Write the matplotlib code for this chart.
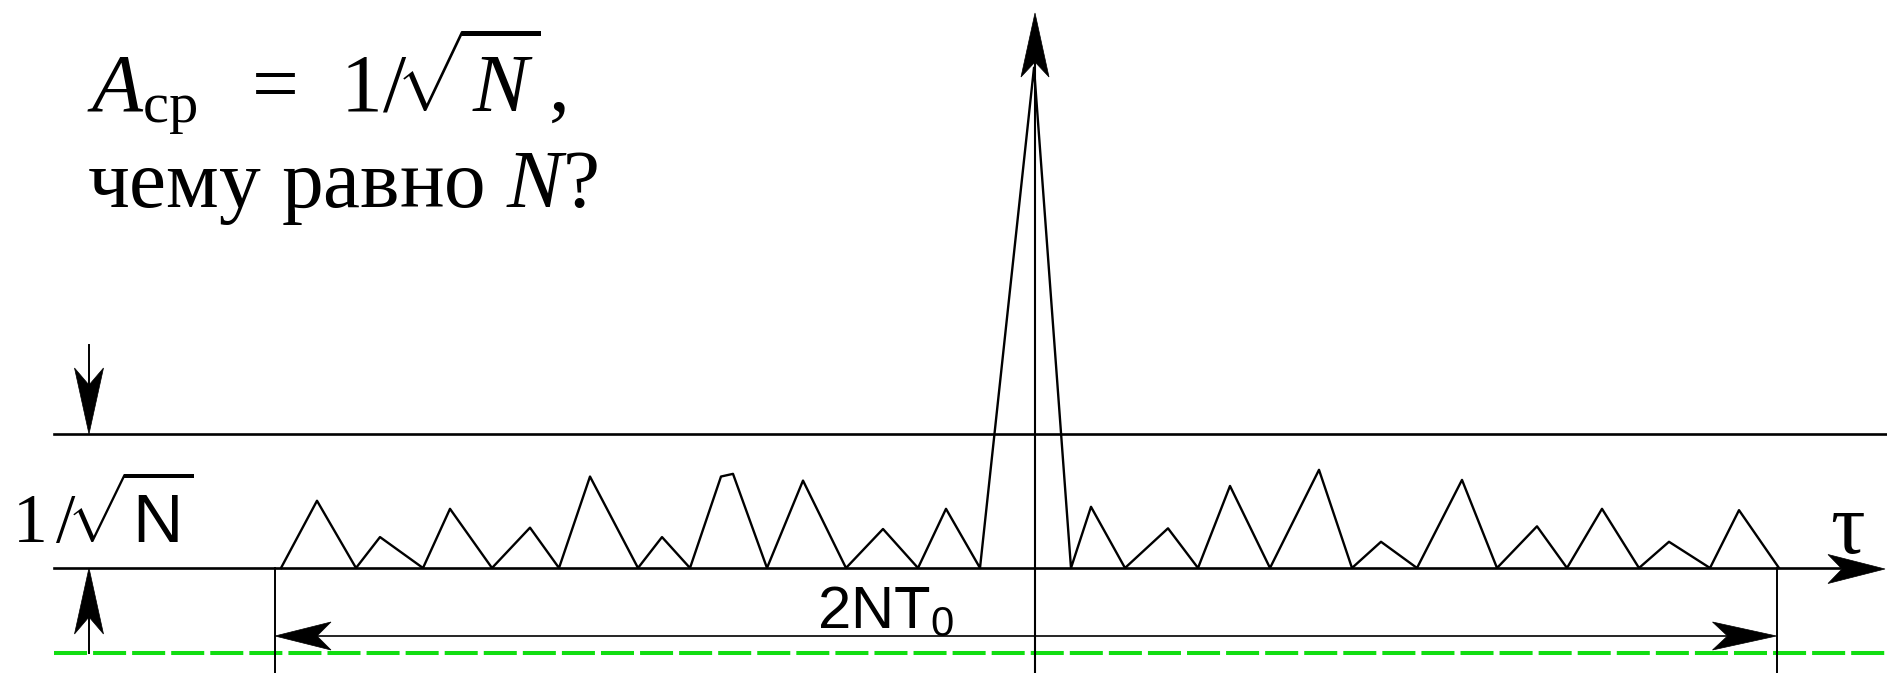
import numpy as np
import matplotlib.pyplot as plt
from matplotlib.patches import Polygon

plt.rcParams['mathtext.fontset'] = 'custom'
plt.rcParams['mathtext.rm'] = 'Liberation Serif'
plt.rcParams['mathtext.it'] = 'Liberation Serif:italic'
plt.rcParams['mathtext.sf'] = 'Liberation Sans'

W, H = 1887, 673
BASE = 568.0   # pixel row of the tau axis
UNIT = 134.5   # pixels per 1/sqrt(N)

# correlation function vertices: tau (pixel column) and level in units of 1/sqrt(N)
tau = [281, 317, 356, 380, 423, 450, 492, 530, 559, 590, 638, 662, 690, 721, 733,
       767, 803, 846, 883, 918, 946, 980, 1034, 1071, 1091, 1125, 1168, 1198, 1230,
       1270, 1319, 1352, 1381, 1417, 1462, 1497, 1537, 1567, 1602, 1639, 1669, 1710,
       1739, 1779]
acf = [0, 0.50, 0, 0.23, 0, 0.44, 0, 0.30, 0, 0.68, 0, 0.23, 0, 0.68, 0.70,
       0, 0.65, 0, 0.29, 0, 0.44, 0, 3.72, 0, 0.455, 0, 0.295, 0, 0.61,
       0, 0.73, 0, 0.195, 0, 0.655, 0, 0.31, 0, 0.44, 0, 0.195, 0,
       0.43, 0]

tau_left, tau_right, tau_zero = 275, 1776.5, 1035


def a(py):
    # pixel row -> level units
    return (BASE - py) / UNIT


def head(ax, tip, d, L, w, notch):
    tx, ty = tip
    dx, dy = d
    px, py = -dy, dx
    pts = [(tx, ty),
           (tx - L * dx + w * px, ty - L * dy + w * py),
           (tx - (L - notch) * dx, ty - (L - notch) * dy),
           (tx - L * dx - w * px, ty - L * dy - w * py)]
    pts = [(x, a(y)) for x, y in pts]
    ax.add_patch(Polygon(pts, closed=True, fc='black', ec='black', lw=0.5, zorder=5))


fig = plt.figure(figsize=(W / 100, H / 100), dpi=100)
ax = fig.add_axes([0, 0, 1, 1])
ax.set_xlim(0, W)
ax.set_ylim(a(H), a(0))
ax.axis('off')

# level lines
ax.plot([54, W], [1, 1], color='black', lw=1.9)
ax.plot([54, 1840], [0, 0], color='black', lw=1.9)
ax.plot([54, W], [a(653), a(653)], color='#11dd11', lw=2.9, dashes=(8.2, 1.5))

# correlation function
ax.plot(tau, acf, color='black', lw=1.7)

# vertical lines
ax.plot([tau_zero, tau_zero], [a(H), a(60)], color='black', lw=1.5)
ax.plot([tau_left, tau_left], [0, a(H)], color='black', lw=1.4)
ax.plot([tau_right, tau_right], [0, a(H)], color='black', lw=1.4)

# dimension 2NT0
ax.plot([tau_left + 20, tau_right - 20], [a(636), a(636)], color='black', lw=1.2)
head(ax, (tau_left, 636), (-1, 0), 56, 14, 14)
head(ax, (tau_right, 636), (1, 0), 64, 14, 15)

# arrows
head(ax, (tau_zero, 13), (0, -1), 64, 14, 15)
head(ax, (1885, 569), (1, 0), 57, 14.5, 14)
ax.plot([89, 89], [a(345), a(420)], color='black', lw=1.4)
head(ax, (89, 434), (0, 1), 66, 14.5, 17)
ax.plot([89, 89], [a(580), a(653)], color='black', lw=1.4)
head(ax, (89, 568), (0, -1), 66, 14.5, 17)

# texts
ax.text(87, a(111), r'$A_{\mathrm{ср}}\ \ =\,\ 1/\!\sqrt{N}\,,$', fontsize=60,
        ha='left', va='baseline')
ax.text(87, a(207), 'чему равно $N$?', family='Liberation Serif', fontsize=60,
        ha='left', va='baseline')
ax.text(12, a(543), r'$1\,/\!\sqrt{\mathsf{N}}$', fontsize=50, ha='left', va='baseline')
ax.text(817, a(628), r'$\mathsf{2NT}_{\mathsf{0}}$', fontsize=43, ha='left', va='baseline')
ax.text(1830, a(553), 'τ', family='Liberation Serif', fontsize=62, ha='left', va='baseline')

fig.savefig('out.png', dpi=100)
